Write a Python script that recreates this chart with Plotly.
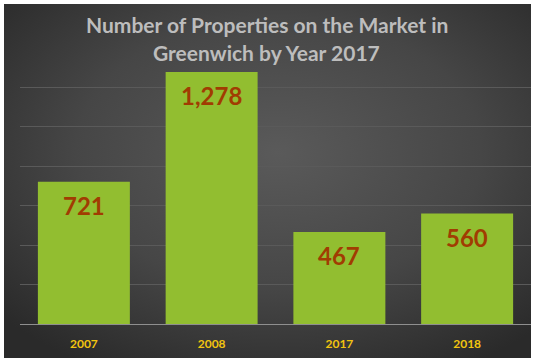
import base64
import plotly.graph_objects as go

years = ["2007", "2008", "2017", "2018"]
counts = [721, 1278, 467, 560]
value_labels = ["721", "1,278", "467", "560"]
title_lines = ["Number of Properties on the Market in", "Greenwich by Year 2017"]

W, H = 535, 364
L, R, T, B = 20, 4, 47, 40
plot_w = W - L - R
plot_h = H - T - B
FONT = "Lato, 'Open Sans', sans-serif"

svg = """<svg xmlns='http://www.w3.org/2000/svg' width='527' height='354' viewBox='0 0 527 354' preserveAspectRatio='none'>
<defs><radialGradient id='g' cx='52%' cy='42%' r='70%'>
<stop offset='0%' stop-color='#5a5a5a'/>
<stop offset='55%' stop-color='#464646'/>
<stop offset='100%' stop-color='#2a2a2a'/>
</radialGradient></defs>
<rect width='527' height='354' fill='url(#g)'/></svg>"""
bg_uri = "data:image/svg+xml;base64," + base64.b64encode(svg.encode()).decode()

fig = go.Figure()
fig.add_trace(go.Bar(
    x=years, y=counts,
    marker=dict(color="#92BE30", line=dict(width=0)),
    hoverinfo="x+y",
))

for i, (v, lab) in enumerate(zip(counts, value_labels)):
    fig.add_annotation(
        x=i, y=v, text=f"<b>{lab}</b>", showarrow=False,
        yanchor="top", yshift=-7,
        font=dict(family=FONT, size=24, color="#A13C02", weight=900),
    )

for i, line in enumerate(title_lines):
    fig.add_annotation(
        xref="paper", yref="paper", x=(W / 2 - 1 - L) / plot_w,
        y=(H - B - (25 + 27 * i)) / plot_h,
        text=f"<b>{line}</b>", showarrow=False, xanchor="center", yanchor="middle",
        font=dict(family=FONT, size=21, color="#BDBDBD"),
    )

px0 = 4
py0 = 4
fig.add_layout_image(
    source=bg_uri, xref="paper", yref="paper",
    x=(px0 - L) / plot_w, y=(H - B - py0) / plot_h,
    sizex=527 / plot_w, sizey=354 / plot_h,
    xanchor="left", yanchor="top", sizing="stretch", layer="below",
)

fig.update_layout(
    width=W, height=H, autosize=False,
    margin=dict(l=L, r=R, t=T, b=B, pad=0, autoexpand=False),
    paper_bgcolor="white", plot_bgcolor="rgba(0,0,0,0)",
    bargap=0.28,
    showlegend=False,
    xaxis=dict(
        type="category", automargin=False, range=[-0.5, len(years) - 0.5],
        showgrid=False, zeroline=False, showline=True, linecolor="#8f8f8f", linewidth=1,
        ticks="", ticklabelstandoff=9,
        tickfont=dict(family=FONT, size=12, color="#F2C40F", weight="bold"),
    ),
    yaxis=dict(
        range=[0, 1405], tickvals=[200, 400, 600, 800, 1000, 1200, 1400],
        showgrid=True, gridcolor="#5a5a5a", gridwidth=1,
        zeroline=False, showticklabels=False, showline=False, automargin=False,
    ),
)

fig.write_html(
    "out.html",
    config={"displayModeBar": False},
    post_script="document.body.style.margin='0';document.body.style.overflow='hidden';",
)
